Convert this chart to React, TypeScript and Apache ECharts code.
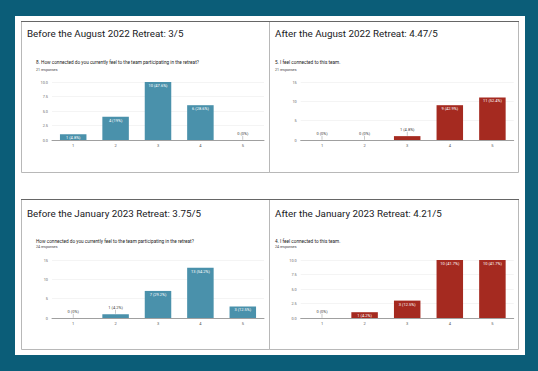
import React, { useEffect, useRef } from 'react';
import * as echarts from 'echarts';

const categories = ['1', '2', '3', '4', '5'];
const augBeforeCounts = [1, 4, 10, 6, 0];
const augAfterCounts = [0, 0, 1, 9, 11];
const janBeforeCounts = [0, 1, 7, 13, 3];
const janAfterCounts = [0, 1, 3, 10, 10];
const responseTotals = [21, 21, 24, 24];
const yMaxes = [10, 15, 15, 10];
const yIntervals = [2.5, 5, 5, 2.5];
const panelTitles = [
  'Before the August 2022 Retreat: 3/5',
  'After the August 2022 Retreat: 4.47/5',
  'Before the January 2023 Retreat: 3.75/5',
  'After the January 2023 Retreat: 4.21/5',
];
const questions = [
  '8. How connected do you currently feel to the team participating in the retreat?',
  '5. I feel connected to this team.',
  'How connected do you currently feel to the team participating in the retreat?',
  '4. I feel connected to this team.',
];

const seriesCounts = [augBeforeCounts, augAfterCounts, janBeforeCounts, janAfterCounts];
const barColors = ['#4a91ab', '#a52a20', '#4a91ab', '#a52a20'];

const FONT = 'Roboto, Arial, sans-serif';

const panels = [
  { x: 21, y: 21, w: 248, h: 151 },
  { x: 269, y: 21, w: 249, h: 151 },
  { x: 21, y: 199, w: 248, h: 150 },
  { x: 269, y: 199, w: 249, h: 150 },
];
const grids = [
  { left: 52, top: 82, width: 212, height: 58 },
  { left: 300.7, top: 82, width: 213, height: 58 },
  { left: 52, top: 260, width: 212, height: 58 },
  { left: 300.7, top: 260, width: 213, height: 58 },
];

export default function App() {
  const ref = useRef<HTMLDivElement>(null);
  useEffect(() => {
    const chart = echarts.init(ref.current!, null, { renderer: 'svg' });
    const graphic: any[] = [
      { type: 'rect', z: -10, shape: { x: 15, y: 16, width: 510, height: 339 }, style: { fill: '#ffffff' } },
    ];
    panels.forEach((p, i) => {
      graphic.push({
        type: 'rect', z: -5,
        shape: { x: p.x + 0.5, y: p.y + 0.5, width: p.w, height: p.h },
        style: { fill: 'none', stroke: '#b8b8b8', lineWidth: 1 },
      });
      graphic.push({
        type: 'line', z: -4,
        shape: { x1: p.x, y1: p.y + 0.5, x2: p.x + p.w + 1, y2: p.y + 0.5 },
        style: { stroke: '#666', lineWidth: 1 },
      });
      const titleY = i < 2 ? 33.3 : 213;
      const qY = i < 2 ? 62 : 241;
      const rY = i < 2 ? 70 : 247;
      const tx = i % 2 === 0 ? 27 : 275;
      const qx = i % 2 === 0 ? 36 : 275;
      graphic.push({
        type: 'text',
        style: { x: tx, y: titleY, text: panelTitles[i], fontSize: 9.8, fontFamily: FONT, fill: '#202124', verticalAlign: 'middle' },
      });
      graphic.push({
        type: 'text',
        style: { x: qx, y: qY, text: questions[i], fontSize: 4.7, fontFamily: FONT, fill: '#222', verticalAlign: 'middle' },
      });
      graphic.push({
        type: 'text',
        style: { x: qx, y: rY, text: responseTotals[i] + ' responses', fontSize: 3.6, fontFamily: FONT, fill: '#444', verticalAlign: 'middle' },
      });
    });

    const series: any[] = [];
    seriesCounts.forEach((counts, i) => {
      const pxPerUnit = grids[i].height / yMaxes[i];
      const total = responseTotals[i];
      series.push({
        type: 'bar',
        xAxisIndex: i,
        yAxisIndex: i,
        barWidth: 26.5,
        itemStyle: { color: barColors[i] },
        data: counts.map((v) => {
          const inside = v * pxPerUnit >= 5.5;
          return {
            value: v,
            label: inside
              ? { show: true, position: 'insideTop', distance: 1.5, color: '#ffffff' }
              : { show: true, position: 'top', distance: 4.5, color: '#444' },
          };
        }),
        label: {
          show: true,
          fontSize: 4,
          fontFamily: FONT,
          formatter: (p: any) => {
            const pct = Number(((p.value / total) * 100).toFixed(1));
            return `${p.value} (${pct}%)`;
          },
        },
      });
      series.push({
        type: 'scatter',
        xAxisIndex: i,
        yAxisIndex: i,
        symbol: 'rect',
        symbolSize: [0.7, 4],
        symbolOffset: [0, -2.3],
        itemStyle: { color: '#9e9e9e' },
        z: 5,
        silent: true,
        data: counts
          .map((v, k) => [k, v])
          .filter((d) => d[1] * pxPerUnit < 5.5),
      });
    });

    const option: any = {
      animation: false,
      backgroundColor: '#0b5d78',
      graphic,
      grid: grids.map((g) => ({ ...g, containLabel: false })),
      xAxis: grids.map((_, i) => ({
        type: 'category',
        gridIndex: i,
        data: categories,
        axisLine: { lineStyle: { color: '#8a8a8a', width: 0.8 } },
        axisTick: { show: false },
        axisLabel: { fontSize: 4, color: '#555', margin: 3, fontFamily: FONT },
      })),
      yAxis: grids.map((_, i) => ({
        type: 'value',
        gridIndex: i,
        min: 0,
        max: yMaxes[i],
        interval: yIntervals[i],
        axisLine: { show: false },
        axisTick: { show: false },
        splitLine: { lineStyle: { color: '#ececec', width: 0.6 } },
        axisLabel: {
          fontSize: 3.8,
          color: '#666',
          margin: 4,
          fontFamily: FONT,
          formatter: (v: number) => (yIntervals[i] % 1 !== 0 ? v.toFixed(1) : String(v)),
        },
      })),
      series,
    };
    chart.setOption(option);
    return () => chart.dispose();
  }, []);
  return <div ref={ref} style={{ position: 'absolute', left: 0, top: 0, width: 538, height: 371 }} />;
}
